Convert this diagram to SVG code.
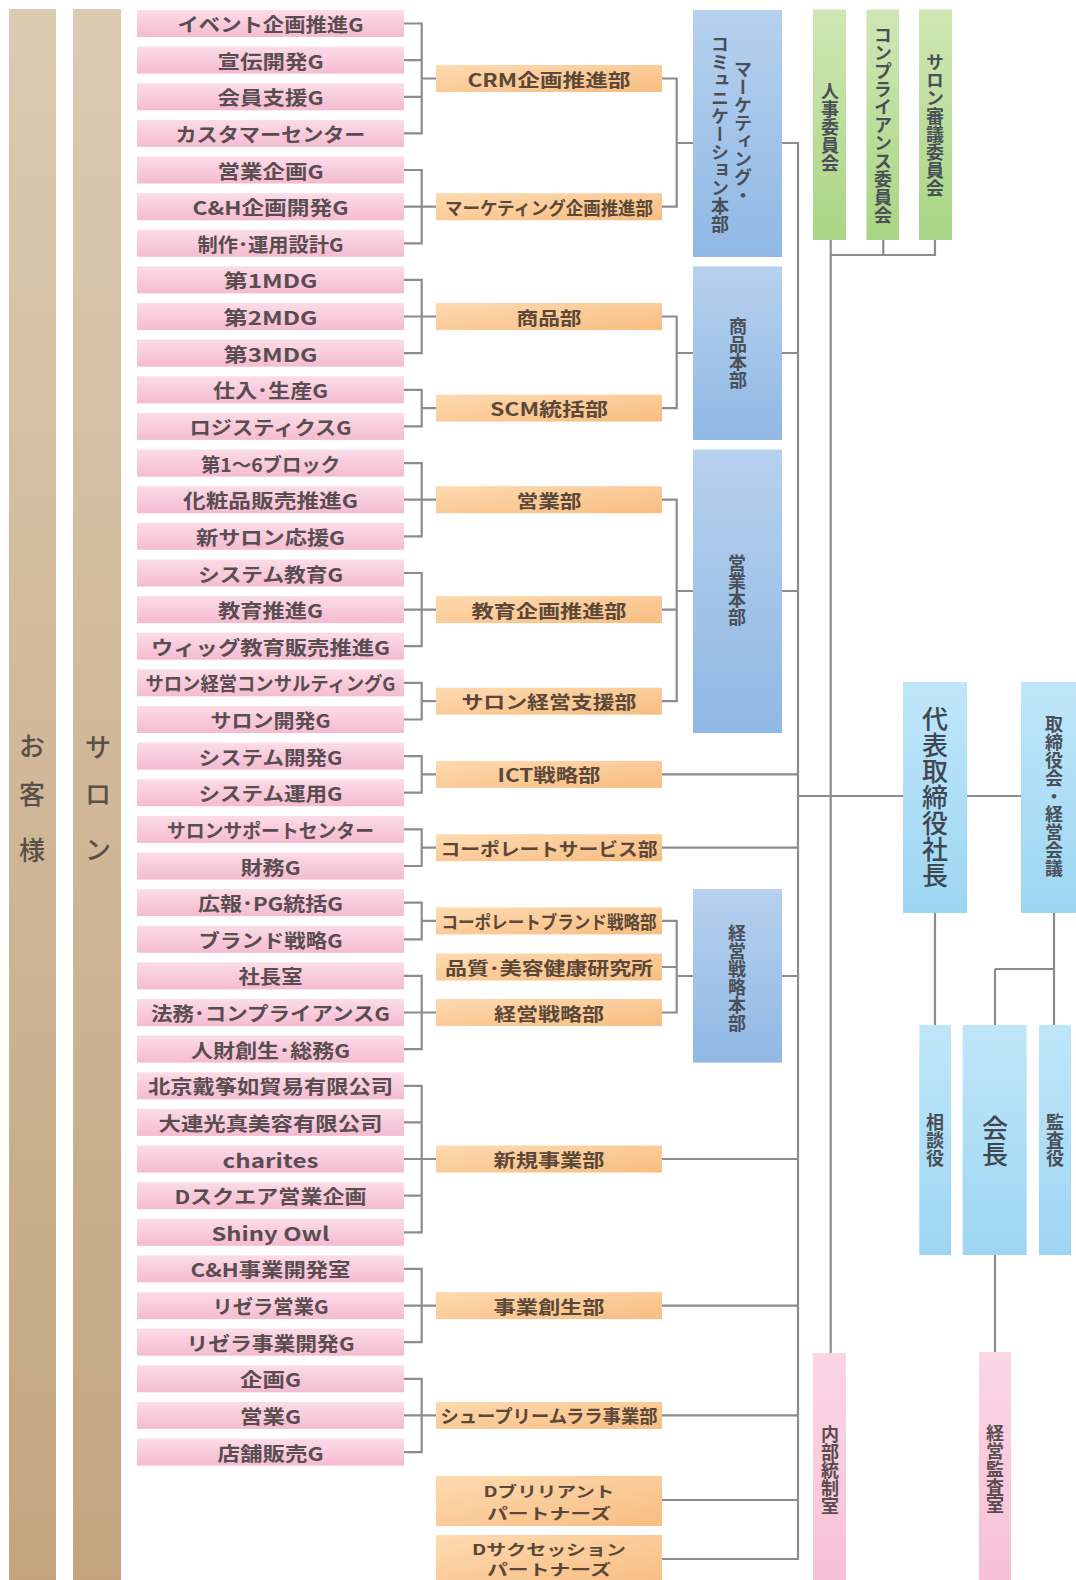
<svg xmlns="http://www.w3.org/2000/svg" width="1076" height="1580" viewBox="0 0 1076 1580">
<defs>
<linearGradient id="gPink" x1="0" y1="0" x2="0" y2="1"><stop offset="0" stop-color="#fbdce7"/><stop offset="1" stop-color="#f5bbd0"/></linearGradient>
<linearGradient id="gOr" x1="0" y1="0" x2="1" y2="1"><stop offset="0" stop-color="#fddab0"/><stop offset="1" stop-color="#f8bd82"/></linearGradient>
<linearGradient id="gBlue" x1="0" y1="0" x2="0" y2="1"><stop offset="0" stop-color="#b7d1ef"/><stop offset="1" stop-color="#8fb8e4"/></linearGradient>
<linearGradient id="gGreen" x1="0" y1="0" x2="0" y2="1"><stop offset="0" stop-color="#cfe7b4"/><stop offset="1" stop-color="#a9d584"/></linearGradient>
<linearGradient id="gLB" x1="0" y1="0" x2="0" y2="1"><stop offset="0" stop-color="#bfe6f9"/><stop offset="1" stop-color="#9dd6f3"/></linearGradient>
<linearGradient id="gPk2" x1="0" y1="0" x2="0" y2="1"><stop offset="0" stop-color="#fbd6e4"/><stop offset="1" stop-color="#f7c0d5"/></linearGradient>
<linearGradient id="gTan" x1="0" y1="0" x2="0" y2="1"><stop offset="0" stop-color="#dccab0"/><stop offset="1" stop-color="#c3a47f"/></linearGradient>
</defs>
<style>
.pb{fill:url(#gPink)}
.ob{fill:url(#gOr)}
.bb{fill:url(#gBlue)}
.gb{fill:url(#gGreen)}
.lb{fill:url(#gLB)}
.p2{fill:url(#gPk2)}
.tb{fill:url(#gTan)}
text{font-family:"Noto Sans CJK JP","Noto Sans",sans-serif;text-anchor:middle;dominant-baseline:central}
.pt{font-size:19px;font-weight:700;fill:#5a4d52}
.ot{font-size:18px;font-weight:700;fill:#5b4838}
.o2{font-size:15px;font-weight:700;fill:#5b4838}
.vt{writing-mode:vertical-rl;font-size:18px;font-weight:700;fill:#4a4f58}
.big{writing-mode:vertical-rl;font-size:26px;font-weight:500;fill:#3f4850}
.tt{font-size:26px;font-weight:500;fill:#5a5048}
.cn{fill:none;stroke:#8c8c8c;stroke-width:2.2}
</style>
<rect width="1076" height="1580" fill="#ffffff"/>

<g id="okyakusama"><rect class="tb" x="9" y="9" width="47" height="1580"/><text class="tt" x="32" y="744">お</text><text class="tt" x="32" y="792">客</text><text class="tt" x="32" y="848">様</text></g>
<g id="salon"><rect class="tb" x="73" y="9" width="48" height="1580"/><text class="tt" x="98" y="745">サ</text><text class="tt" x="98" y="792">ロ</text><text class="tt" x="98" y="847">ン</text></g>

<g id="connectors" class="cn">
<path d="M404 23.5H421.7V133.4H404M404 60.1H421.7M404 96.8H421.7M421.7 78.5H436"/>
<path d="M404 170H421.7V243.3H404M404 206.7H436"/>
<path d="M404 279.9H421.7V353.2H404M404 316.5H436"/>
<path d="M404 389.8H421.7V426.4H404M421.7 408.1H436"/>
<path d="M404 463.1H421.7V536.3H404M404 499.7H436"/>
<path d="M404 573H421.7V646.2H404M404 609.6H436"/>
<path d="M404 682.8H421.7V719.5H404M421.7 701.2H436"/>
<path d="M404 756.1H421.7V792.7H404M421.7 774.4H436"/>
<path d="M404 829.4H421.7V866H404M421.7 847.7H436"/>
<path d="M404 902.6H421.7V939.3H404M421.7 920.9H436"/>
<path d="M404 975.9H421.7V1049.1H404M404 1012.5H436"/>
<path d="M404 1085.8H421.7V1232.3H404M404 1122.4H421.7M404 1159H436M404 1195.7H421.7"/>
<path d="M404 1268.9H421.7V1342.2H404M404 1305.6H436"/>
<path d="M404 1378.8H421.7V1452.1H404M404 1415.4H436"/>
<path d="M662 78.5H676.7V206.7H662M676.7 143H693"/>
<path d="M662 316.5H676.7V408.1H662M676.7 353H693"/>
<path d="M662 499.7H676.7V701.2H662M662 609.6H676.7M676.7 591H693"/>
<path d="M662 920.9H676.7V1012.5H662M662 967H676.7M676.7 976H693"/>
<path d="M781.7 143H798M781.7 353H798M781.7 591H798M781.7 976H798"/>
<path d="M662 774.4H798M662 847.7H798M662 1159H798M662 1305.6H798M662 1415.4H798M662 1500H798M662 1559H798"/>
<path d="M798 142V1560"/>
<path d="M798 796H903M967 796H1021"/>
<path d="M830.7 240V1353M883.3 240V255M935 240V255M830.7 255H936"/>
<path d="M935 913V1025M1054 913V1025M995 969H1055M995 969V1025M995 1255V1352"/>
</g>

<g id="p01"><rect class="pb" x="137" y="10" width="267" height="27"/><text class="pt" x="270.5" y="23.5" textLength="186" lengthAdjust="spacingAndGlyphs">イベント企画推進G</text></g>
<g id="p02"><rect class="pb" x="137" y="46.6" width="267" height="27"/><text class="pt" x="270.5" y="60.1" textLength="106" lengthAdjust="spacingAndGlyphs">宣伝開発G</text></g>
<g id="p03"><rect class="pb" x="137" y="83.3" width="267" height="27"/><text class="pt" x="270.5" y="96.8" textLength="106" lengthAdjust="spacingAndGlyphs">会員支援G</text></g>
<g id="p04"><rect class="pb" x="137" y="119.9" width="267" height="27"/><text class="pt" x="270.5" y="133.4" textLength="190" lengthAdjust="spacingAndGlyphs">カスタマーセンター</text></g>
<g id="p05"><rect class="pb" x="137" y="156.5" width="267" height="27"/><text class="pt" x="270.5" y="170" textLength="106" lengthAdjust="spacingAndGlyphs">営業企画G</text></g>
<g id="p06"><rect class="pb" x="137" y="193.2" width="267" height="27"/><text class="pt" x="270.5" y="206.7" textLength="156" lengthAdjust="spacingAndGlyphs">C&amp;H企画開発G</text></g>
<g id="p07"><rect class="pb" x="137" y="229.8" width="267" height="27"/><text class="pt" x="270.5" y="243.3" textLength="146" lengthAdjust="spacingAndGlyphs">制作･運用設計G</text></g>
<g id="p08"><rect class="pb" x="137" y="266.4" width="267" height="27"/><text class="pt" x="270.5" y="279.9" textLength="94" lengthAdjust="spacingAndGlyphs">第1MDG</text></g>
<g id="p09"><rect class="pb" x="137" y="303" width="267" height="27"/><text class="pt" x="270.5" y="316.5" textLength="94" lengthAdjust="spacingAndGlyphs">第2MDG</text></g>
<g id="p10"><rect class="pb" x="137" y="339.7" width="267" height="27"/><text class="pt" x="270.5" y="353.2" textLength="94" lengthAdjust="spacingAndGlyphs">第3MDG</text></g>
<g id="p11"><rect class="pb" x="137" y="376.3" width="267" height="27"/><text class="pt" x="270.5" y="389.8" textLength="115" lengthAdjust="spacingAndGlyphs">仕入･生産G</text></g>
<g id="p12"><rect class="pb" x="137" y="412.9" width="267" height="27"/><text class="pt" x="270.5" y="426.4" textLength="162" lengthAdjust="spacingAndGlyphs">ロジスティクスG</text></g>
<g id="p13"><rect class="pb" x="137" y="449.6" width="267" height="27"/><text class="pt" x="270.5" y="463.1" textLength="139" lengthAdjust="spacingAndGlyphs">第1～6ブロック</text></g>
<g id="p14"><rect class="pb" x="137" y="486.2" width="267" height="27"/><text class="pt" x="270.5" y="499.7" textLength="175" lengthAdjust="spacingAndGlyphs">化粧品販売推進G</text></g>
<g id="p15"><rect class="pb" x="137" y="522.8" width="267" height="27"/><text class="pt" x="270.5" y="536.3" textLength="149" lengthAdjust="spacingAndGlyphs">新サロン応援G</text></g>
<g id="p16"><rect class="pb" x="137" y="559.5" width="267" height="27"/><text class="pt" x="270.5" y="573" textLength="145" lengthAdjust="spacingAndGlyphs">システム教育G</text></g>
<g id="p17"><rect class="pb" x="137" y="596.1" width="267" height="27"/><text class="pt" x="270.5" y="609.6" textLength="105" lengthAdjust="spacingAndGlyphs">教育推進G</text></g>
<g id="p18"><rect class="pb" x="137" y="632.7" width="267" height="27"/><text class="pt" x="270.5" y="646.2" textLength="239" lengthAdjust="spacingAndGlyphs">ウィッグ教育販売推進G</text></g>
<g id="p19"><rect class="pb" x="137" y="669.3" width="267" height="27"/><text class="pt" x="270.5" y="682.8" textLength="250" lengthAdjust="spacingAndGlyphs">サロン経営コンサルティングG</text></g>
<g id="p20"><rect class="pb" x="137" y="706" width="267" height="27"/><text class="pt" x="270.5" y="719.5" textLength="120" lengthAdjust="spacingAndGlyphs">サロン開発G</text></g>
<g id="p21"><rect class="pb" x="137" y="742.6" width="267" height="27"/><text class="pt" x="270.5" y="756.1" textLength="144" lengthAdjust="spacingAndGlyphs">システム開発G</text></g>
<g id="p22"><rect class="pb" x="137" y="779.2" width="267" height="27"/><text class="pt" x="270.5" y="792.7" textLength="144" lengthAdjust="spacingAndGlyphs">システム運用G</text></g>
<g id="p23"><rect class="pb" x="137" y="815.9" width="267" height="27"/><text class="pt" x="270.5" y="829.4" textLength="207" lengthAdjust="spacingAndGlyphs">サロンサポートセンター</text></g>
<g id="p24"><rect class="pb" x="137" y="852.5" width="267" height="27"/><text class="pt" x="270.5" y="866" textLength="60" lengthAdjust="spacingAndGlyphs">財務G</text></g>
<g id="p25"><rect class="pb" x="137" y="889.1" width="267" height="27"/><text class="pt" x="270.5" y="902.6" textLength="145" lengthAdjust="spacingAndGlyphs">広報･PG統括G</text></g>
<g id="p26"><rect class="pb" x="137" y="925.8" width="267" height="27"/><text class="pt" x="270.5" y="939.3" textLength="144" lengthAdjust="spacingAndGlyphs">ブランド戦略G</text></g>
<g id="p27"><rect class="pb" x="137" y="962.4" width="267" height="27"/><text class="pt" x="270.5" y="975.9" textLength="64" lengthAdjust="spacingAndGlyphs">社長室</text></g>
<g id="p28"><rect class="pb" x="137" y="999" width="267" height="27"/><text class="pt" x="270.5" y="1012.5" textLength="239" lengthAdjust="spacingAndGlyphs">法務･コンプライアンスG</text></g>
<g id="p29"><rect class="pb" x="137" y="1035.6" width="267" height="27"/><text class="pt" x="270.5" y="1049.1" textLength="159" lengthAdjust="spacingAndGlyphs">人財創生･総務G</text></g>
<g id="p30"><rect class="pb" x="137" y="1072.3" width="267" height="27"/><text class="pt" x="270.5" y="1085.8" textLength="245" lengthAdjust="spacingAndGlyphs">北京戴筝如貿易有限公司</text></g>
<g id="p31"><rect class="pb" x="137" y="1108.9" width="267" height="27"/><text class="pt" x="270.5" y="1122.4" textLength="224" lengthAdjust="spacingAndGlyphs">大連光真美容有限公司</text></g>
<g id="p32"><rect class="pb" x="137" y="1145.5" width="267" height="27"/><text class="pt" x="270.5" y="1159" textLength="96" lengthAdjust="spacingAndGlyphs">charites</text></g>
<g id="p33"><rect class="pb" x="137" y="1182.2" width="267" height="27"/><text class="pt" x="270.5" y="1195.7" textLength="192" lengthAdjust="spacingAndGlyphs">Dスクエア営業企画</text></g>
<g id="p34"><rect class="pb" x="137" y="1218.8" width="267" height="27"/><text class="pt" x="270.5" y="1232.3" textLength="118" lengthAdjust="spacingAndGlyphs">Shiny Owl</text></g>
<g id="p35"><rect class="pb" x="137" y="1255.4" width="267" height="27"/><text class="pt" x="270.5" y="1268.9" textLength="160" lengthAdjust="spacingAndGlyphs">C&amp;H事業開発室</text></g>
<g id="p36"><rect class="pb" x="137" y="1292.1" width="267" height="27"/><text class="pt" x="270.5" y="1305.6" textLength="116" lengthAdjust="spacingAndGlyphs">リゼラ営業G</text></g>
<g id="p37"><rect class="pb" x="137" y="1328.7" width="267" height="27"/><text class="pt" x="270.5" y="1342.2" textLength="168" lengthAdjust="spacingAndGlyphs">リゼラ事業開発G</text></g>
<g id="p38"><rect class="pb" x="137" y="1365.3" width="267" height="27"/><text class="pt" x="270.5" y="1378.8" textLength="61" lengthAdjust="spacingAndGlyphs">企画G</text></g>
<g id="p39"><rect class="pb" x="137" y="1401.9" width="267" height="27"/><text class="pt" x="270.5" y="1415.4" textLength="61" lengthAdjust="spacingAndGlyphs">営業G</text></g>
<g id="p40"><rect class="pb" x="137" y="1438.6" width="267" height="27"/><text class="pt" x="270.5" y="1452.1" textLength="106" lengthAdjust="spacingAndGlyphs">店舗販売G</text></g>

<g id="o01"><rect class="ob" x="436" y="65" width="226" height="27"/><text class="ot" x="549" y="78.5" textLength="163" lengthAdjust="spacingAndGlyphs">CRM企画推進部</text></g>
<g id="o02"><rect class="ob" x="436" y="193.2" width="226" height="27"/><text class="ot" x="549" y="206.7" textLength="208" lengthAdjust="spacingAndGlyphs">マーケティング企画推進部</text></g>
<g id="o03"><rect class="ob" x="436" y="303" width="226" height="27"/><text class="ot" x="549" y="316.5" textLength="65" lengthAdjust="spacingAndGlyphs">商品部</text></g>
<g id="o04"><rect class="ob" x="436" y="394.6" width="226" height="27"/><text class="ot" x="549" y="408.1" textLength="118" lengthAdjust="spacingAndGlyphs">SCM統括部</text></g>
<g id="o05"><rect class="ob" x="436" y="486.2" width="226" height="27"/><text class="ot" x="549" y="499.7" textLength="65" lengthAdjust="spacingAndGlyphs">営業部</text></g>
<g id="o06"><rect class="ob" x="436" y="596.1" width="226" height="27"/><text class="ot" x="549" y="609.6" textLength="155" lengthAdjust="spacingAndGlyphs">教育企画推進部</text></g>
<g id="o07"><rect class="ob" x="436" y="687.7" width="226" height="27"/><text class="ot" x="549" y="701.2" textLength="175" lengthAdjust="spacingAndGlyphs">サロン経営支援部</text></g>
<g id="o08"><rect class="ob" x="436" y="760.9" width="226" height="27"/><text class="ot" x="549" y="774.4" textLength="103" lengthAdjust="spacingAndGlyphs">ICT戦略部</text></g>
<g id="o09"><rect class="ob" x="436" y="834.2" width="226" height="27"/><text class="ot" x="549" y="847.7" textLength="217" lengthAdjust="spacingAndGlyphs">コーポレートサービス部</text></g>
<g id="o10"><rect class="ob" x="436" y="907.4" width="226" height="27"/><text class="ot" x="549" y="920.9" textLength="215" lengthAdjust="spacingAndGlyphs">コーポレートブランド戦略部</text></g>
<g id="o11"><rect class="ob" x="436" y="953.5" width="226" height="27"/><text class="ot" x="549" y="967" textLength="208" lengthAdjust="spacingAndGlyphs">品質･美容健康研究所</text></g>
<g id="o12"><rect class="ob" x="436" y="999" width="226" height="27"/><text class="ot" x="549" y="1012.5" textLength="110" lengthAdjust="spacingAndGlyphs">経営戦略部</text></g>
<g id="o13"><rect class="ob" x="436" y="1145.5" width="226" height="27"/><text class="ot" x="549" y="1159" textLength="111" lengthAdjust="spacingAndGlyphs">新規事業部</text></g>
<g id="o14"><rect class="ob" x="436" y="1292.1" width="226" height="27"/><text class="ot" x="549" y="1305.6" textLength="111" lengthAdjust="spacingAndGlyphs">事業創生部</text></g>
<g id="o15"><rect class="ob" x="436" y="1401.9" width="226" height="27"/><text class="ot" x="549" y="1415.4" textLength="217" lengthAdjust="spacingAndGlyphs">シュープリームララ事業部</text></g>
<g id="o16"><rect class="ob" x="436" y="1476" width="226" height="50"/><text class="o2" x="549" y="1490" textLength="131" lengthAdjust="spacingAndGlyphs">Dブリリアント</text><text class="o2" x="549" y="1512" textLength="124" lengthAdjust="spacingAndGlyphs">パートナーズ</text></g>
<g id="o17"><rect class="ob" x="436" y="1535" width="226" height="50"/><text class="o2" x="549" y="1548" textLength="154" lengthAdjust="spacingAndGlyphs">Dサクセッション</text><text class="o2" x="549" y="1568.5" textLength="124" lengthAdjust="spacingAndGlyphs">パートナーズ</text></g>

<g id="b01"><rect class="bb" x="693" y="10" width="89" height="247"/><text class="vt" x="743" y="132">マーケティング・</text><text class="vt" x="720" y="134">コミュニケーション本部</text></g>
<g id="b02"><rect class="bb" x="693" y="266.4" width="89" height="173.6"/><text class="vt" x="738" y="353" font-size="19">商品本部</text></g>
<g id="b03"><rect class="bb" x="693" y="449.6" width="89" height="283.4"/><text class="vt" x="737" y="590" font-size="19">営業本部</text></g>
<g id="b04"><rect class="bb" x="693" y="889" width="89" height="173.6"/><text class="vt" x="737" y="978" font-size="19">経営戦略本部</text></g>

<g id="g01"><rect class="gb" x="813" y="9.5" width="33" height="230.5"/><text class="vt" x="830" y="127">人事委員会</text></g>
<g id="g02"><rect class="gb" x="866.5" y="9.5" width="32.5" height="230.5"/><text class="vt" x="883" y="125">コンプライアンス委員会</text></g>
<g id="g03"><rect class="gb" x="919" y="9.5" width="33" height="230.5"/><text class="vt" x="935" y="125">サロン審議委員会</text></g>

<g id="president"><rect class="lb" x="903" y="682" width="64" height="231"/><text class="big" x="935" y="797">代表取締役社長</text></g>
<g id="board"><rect class="lb" x="1021" y="682" width="66" height="231"/><text class="vt" x="1054" y="796" font-size="17">取締役会・経営会議</text></g>
<g id="advisor"><rect class="lb" x="919.3" y="1025" width="31.7" height="230"/><text class="vt" x="935" y="1140" font-size="17">相談役</text></g>
<g id="chairman"><rect class="lb" x="962.7" y="1025" width="64" height="230"/><text class="big" x="995" y="1141">会長</text></g>
<g id="auditor"><rect class="lb" x="1039" y="1025" width="32" height="230"/><text class="vt" x="1055" y="1140" font-size="17">監査役</text></g>

<g id="internal"><rect class="p2" x="813" y="1353" width="33" height="240"/><text class="vt" x="830" y="1470" style="fill:#5a4d52">内部統制室</text></g>
<g id="audit"><rect class="p2" x="979" y="1352" width="32" height="240"/><text class="vt" x="995" y="1469" style="fill:#5a4d52">経営監査室</text></g>
</svg>
